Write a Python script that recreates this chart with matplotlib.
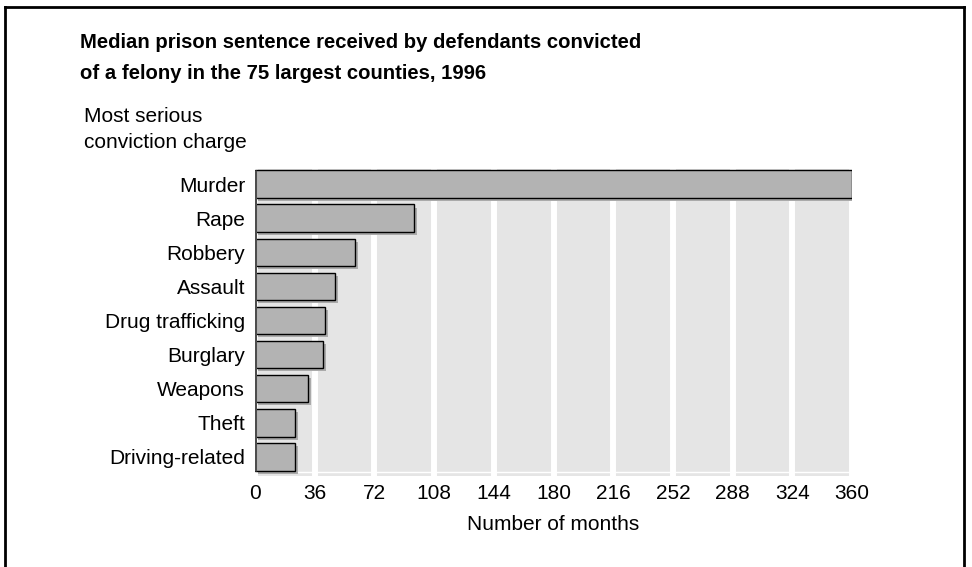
import matplotlib
matplotlib.use("Agg")
import matplotlib.pyplot as plt
import matplotlib.patheffects as pe
from matplotlib.lines import Line2D

plt.rcParams['font.family'] = ['Liberation Sans', 'DejaVu Sans']

# Data
charges = ["Murder", "Rape", "Robbery", "Assault", "Drug trafficking",
           "Burglary", "Weapons", "Theft", "Driving-related"]
months = [360, 96, 60, 48, 42, 41, 32, 24, 24]
ticks = [0, 36, 72, 108, 144, 180, 216, 252, 288, 324, 360]

title_lines = ["Median prison sentence received by defendants convicted",
               "of a felony in the 75 largest counties, 1996"]
ylabel_lines = ["Most serious", "conviction charge"]

W, H = 972, 567
fig = plt.figure(figsize=(W / 100, H / 100), dpi=100)


def py(y):
    # pixel row (from top) -> figure fraction
    return 1 - y / H


# axes placed in pixel coords
left, right, top, bottom = 255, 852, 169, 476
ax = fig.add_axes([left / W, py(bottom), (right - left) / W, (bottom - top) / H])
ax.set_facecolor("#e5e5e5")
for s in ax.spines.values():
    s.set_visible(False)

for t in ticks:
    ax.axvline(t, color="white", lw=4.3, zorder=1)
ax.axhline(8.44, color="white", lw=1, zorder=1)

ypos = list(range(len(charges)))
bars = ax.barh(ypos, months, height=0.8, color="#b3b3b3", edgecolor="black",
               lw=1, zorder=3)
for b in bars:
    b.set_path_effects([pe.SimplePatchShadow(offset=(2.2, -2.2),
                                             shadow_rgbFace="#aaaaaa", alpha=1),
                        pe.Normal()])
ax.plot([0, 0], [-0.42, 8.42], color="#4d4d4d", lw=2.2, zorder=4,
        solid_capstyle="butt")

ax.set_xlim(0, 360)
ax.set_ylim(8.557, -0.44)
ax.set_xticks(ticks)
ax.set_yticks(ypos)
ax.set_yticklabels(charges)
ax.tick_params(axis="both", length=0, labelsize=15)
ax.tick_params(axis="y", pad=7)
ax.tick_params(axis="x", pad=6)

fig.text((left + right) / 2 / W, py(525), "Number of months",
         ha="center", va="center", fontsize=15)

for line, base in zip(title_lines, [48, 79]):
    fig.text(80 / W, py(base), line, ha="left", va="baseline",
             fontsize=14.6, fontweight="bold")
for line, base in zip(ylabel_lines, [122, 148]):
    fig.text(84 / W, py(base), line, ha="left", va="baseline", fontsize=15)

# outer frame
lw = 2
fig.add_artist(Line2D([5 / W, 5 / W], [0, py(7)], color="black", lw=lw))
fig.add_artist(Line2D([5 / W, 964 / W], [py(7), py(7)], color="black", lw=lw))
fig.add_artist(Line2D([964 / W, 964 / W], [0, py(7)], color="black", lw=lw))

fig.savefig("out.png", dpi=100)
